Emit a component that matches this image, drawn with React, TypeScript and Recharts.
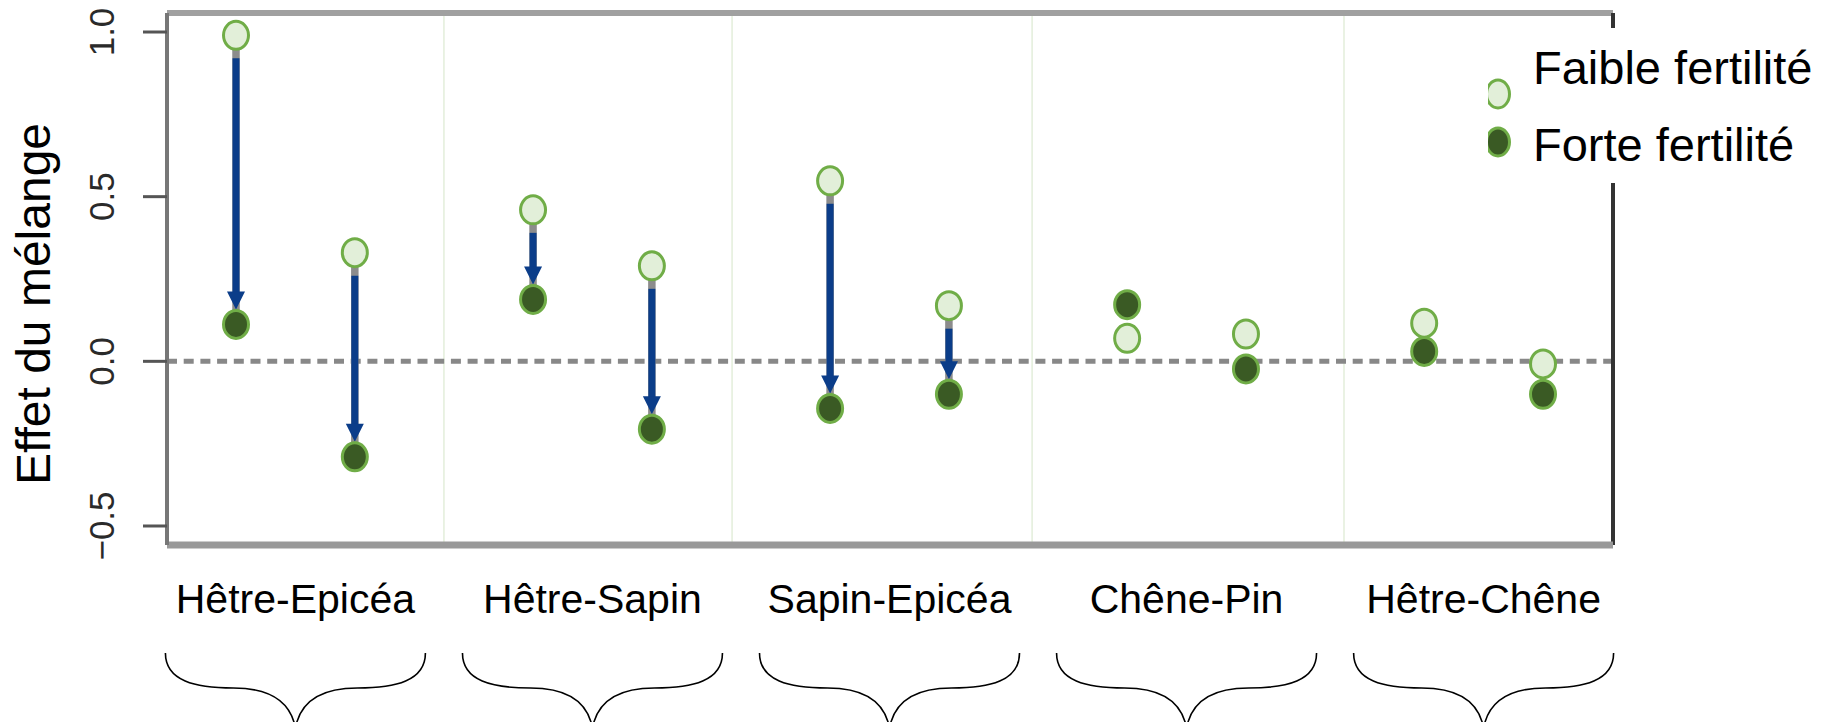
import { Legend, ReferenceLine, Scatter, ScatterChart, XAxis, YAxis } from 'recharts';

// mixtures, two stands per mixture (left, right)
const groups = ['Hêtre-Epicéa', 'Hêtre-Sapin', 'Sapin-Epicéa', 'Chêne-Pin', 'Hêtre-Chêne'];
const faible = [0.99, 0.33, 0.46, 0.29, 0.548, 0.169, 0.07, 0.083, 0.116, -0.008];
const forte = [0.112, -0.29, 0.188, -0.206, -0.143, -0.1, 0.172, -0.023, 0.03, -0.1];
const withArrow = [true, true, true, true, true, true, false, false, false, false];
const yTicks = [-0.5, 0, 0.5, 1];
const separators = [0.7, 1.67, 2.68, 3.73];
const legendItems = ['Faible fertilité', 'Forte fertilité'];

const X_DOMAIN: [number, number] = [-0.2323, 4.6356];
const Y_DOMAIN: [number, number] = [-0.5577, 1.0577];
const FONT = '"Liberation Sans", Arial, sans-serif';
const BLUE = '#0b3d89';
const RIM = '#70ad47';
const LIGHT = '#e2efd9';
const DARK = '#3a5a24';
const RX = 12.5;
const RY = 14;

const slotX = faible.map((_, i) => Math.floor(i / 2) + (i % 2) * 0.4);
const faibleData = faible.map((v, i) => ({ x: slotX[i], y: v }));
const forteData = forte.map((v, i) => ({ x: slotX[i], y: v }));
const groupTicks = groups.map((_, g) => g + 0.2);

const fmt = (v: number) => (v < 0 ? '\u2212' : '') + Math.abs(v).toFixed(1);

const dot = (fill: string) => (props: any) => (
  <ellipse cx={props.cx} cy={props.cy} rx={RX} ry={RY} fill={fill} stroke={RIM} strokeWidth={3} />
);

const Arrow = (props: any) => {
  const { x1, y1, x2, y2 } = props;
  const start = y1 + RY + 9;
  const tip = y2 - RY - 1;
  const head = 18;
  return (
    <g>
      <line x1={x1} y1={y1} x2={x2} y2={y2} stroke="#8c8c8c" strokeWidth={7.5} />
      <line x1={x1} y1={start} x2={x2} y2={tip - head + 2} stroke={BLUE} strokeWidth={7} />
      <path d={`M${x2 - 9},${tip - head} L${x2 + 9},${tip - head} L${x2},${tip} Z`} fill={BLUE} />
    </g>
  );
};

const brace = (cx: number, top: number) => {
  const w = 130;
  return (
    `M${cx - w},${top} C${cx - w},${top + 28} ${cx - w + 30},${top + 35} ${cx - 62},${top + 35} ` +
    `C${cx - 25},${top + 35} ${cx - 5},${top + 48} ${cx},${top + 75} ` +
    `M${cx + w},${top} C${cx + w},${top + 28} ${cx + w - 30},${top + 35} ${cx + 62},${top + 35} ` +
    `C${cx + 25},${top + 35} ${cx + 5},${top + 48} ${cx},${top + 75}`
  );
};

const GroupTick = ({ x, y, payload }: any) => {
  const i = Math.round(payload.value - 0.2);
  return (
    <g>
      <text x={x} y={y + 68} textAnchor="middle" fontSize={41} fontFamily={FONT} fill="#000">
        {groups[i]}
      </text>
      <path d={brace(x, y + 108)} fill="none" stroke="#000" strokeWidth={1.6} />
    </g>
  );
};

const ValueTick = ({ x, y, payload }: any) => {
  const cx = x - 41;
  return (
    <text
      x={cx}
      y={y}
      transform={`rotate(-90 ${cx} ${y})`}
      textAnchor="middle"
      dominantBaseline="central"
      fontSize={35}
      fontFamily={FONT}
      fill="#2a2a2a"
    >
      {fmt(payload.value)}
    </text>
  );
};

const AxisTitle = ({ viewBox }: any) => {
  const cx = viewBox.x + 33;
  const cy = viewBox.y + 291;
  return (
    <text
      x={cx}
      y={cy}
      transform={`rotate(-90 ${cx} ${cy})`}
      textAnchor="middle"
      dominantBaseline="central"
      fontSize={48}
      fontFamily={FONT}
      fill="#000"
    >
      Effet du mélange
    </text>
  );
};

const LegendBox = () => (
  <svg width={339} height={155}>
    {legendItems.map((name, i) => (
      <g key={name}>
        <ellipse
          cx={10}
          cy={i === 0 ? 66 : 114}
          rx={11.5}
          ry={14}
          fill={i === 0 ? LIGHT : DARK}
          stroke={RIM}
          strokeWidth={3}
        />
        <text x={45} y={i === 0 ? 56 : 133} fontSize={47} fontFamily={FONT} fill="#000">
          {name}
        </text>
      </g>
    ))}
  </svg>
);

export default function App() {
  return (
    <div style={{ position: 'absolute', left: 0, top: 0, width: 1827, height: 722, background: '#fff', fontFamily: FONT }}>
      <ScatterChart width={1827} height={722} margin={{ top: 13, right: 214, bottom: 0, left: 0 }}>
        <XAxis
          type="number"
          dataKey="x"
          domain={X_DOMAIN}
          allowDataOverflow
          ticks={groupTicks}
          interval={0}
          height={177}
          tickSize={0}
          tickMargin={0}
          tickLine={false}
          axisLine={{ stroke: '#999', strokeWidth: 7 }}
          tick={<GroupTick />}
        />
        <YAxis
          type="number"
          dataKey="y"
          domain={Y_DOMAIN}
          allowDataOverflow
          ticks={yTicks}
          interval={0}
          width={167}
          tickSize={24}
          tickMargin={0}
          tickLine={{ stroke: '#555', strokeWidth: 3 }}
          axisLine={{ stroke: '#777', strokeWidth: 4 }}
          tick={<ValueTick />}
          label={{ content: <AxisTitle /> }}
        />
        {separators.map((s) => (
          <ReferenceLine key={s} x={s} stroke="#e3eedb" strokeWidth={1.5} />
        ))}
        <ReferenceLine y={0} stroke="#888" strokeWidth={5} strokeDasharray="10 6.7" />
        {faible.map((v, i) =>
          withArrow[i] ? (
            <ReferenceLine
              key={'a' + i}
              segment={[
                { x: slotX[i], y: v },
                { x: slotX[i], y: forte[i] },
              ]}
              shape={<Arrow />}
            />
          ) : null
        )}
        <Scatter name={legendItems[0]} data={faibleData} shape={dot(LIGHT)} isAnimationActive={false} />
        <Scatter name={legendItems[1]} data={forteData} shape={dot(DARK)} isAnimationActive={false} />
        <ReferenceLine y={Y_DOMAIN[1]} stroke="#a0a0a0" strokeWidth={6} />
        <ReferenceLine x={X_DOMAIN[1]} stroke="#333" strokeWidth={4} />
        <Legend
          layout="vertical"
          align="center"
          verticalAlign="middle"
          content={<LegendBox />}
          wrapperStyle={{ left: 1488, top: 28, width: 339, height: 155, background: '#fff' }}
        />
      </ScatterChart>
    </div>
  );
}
